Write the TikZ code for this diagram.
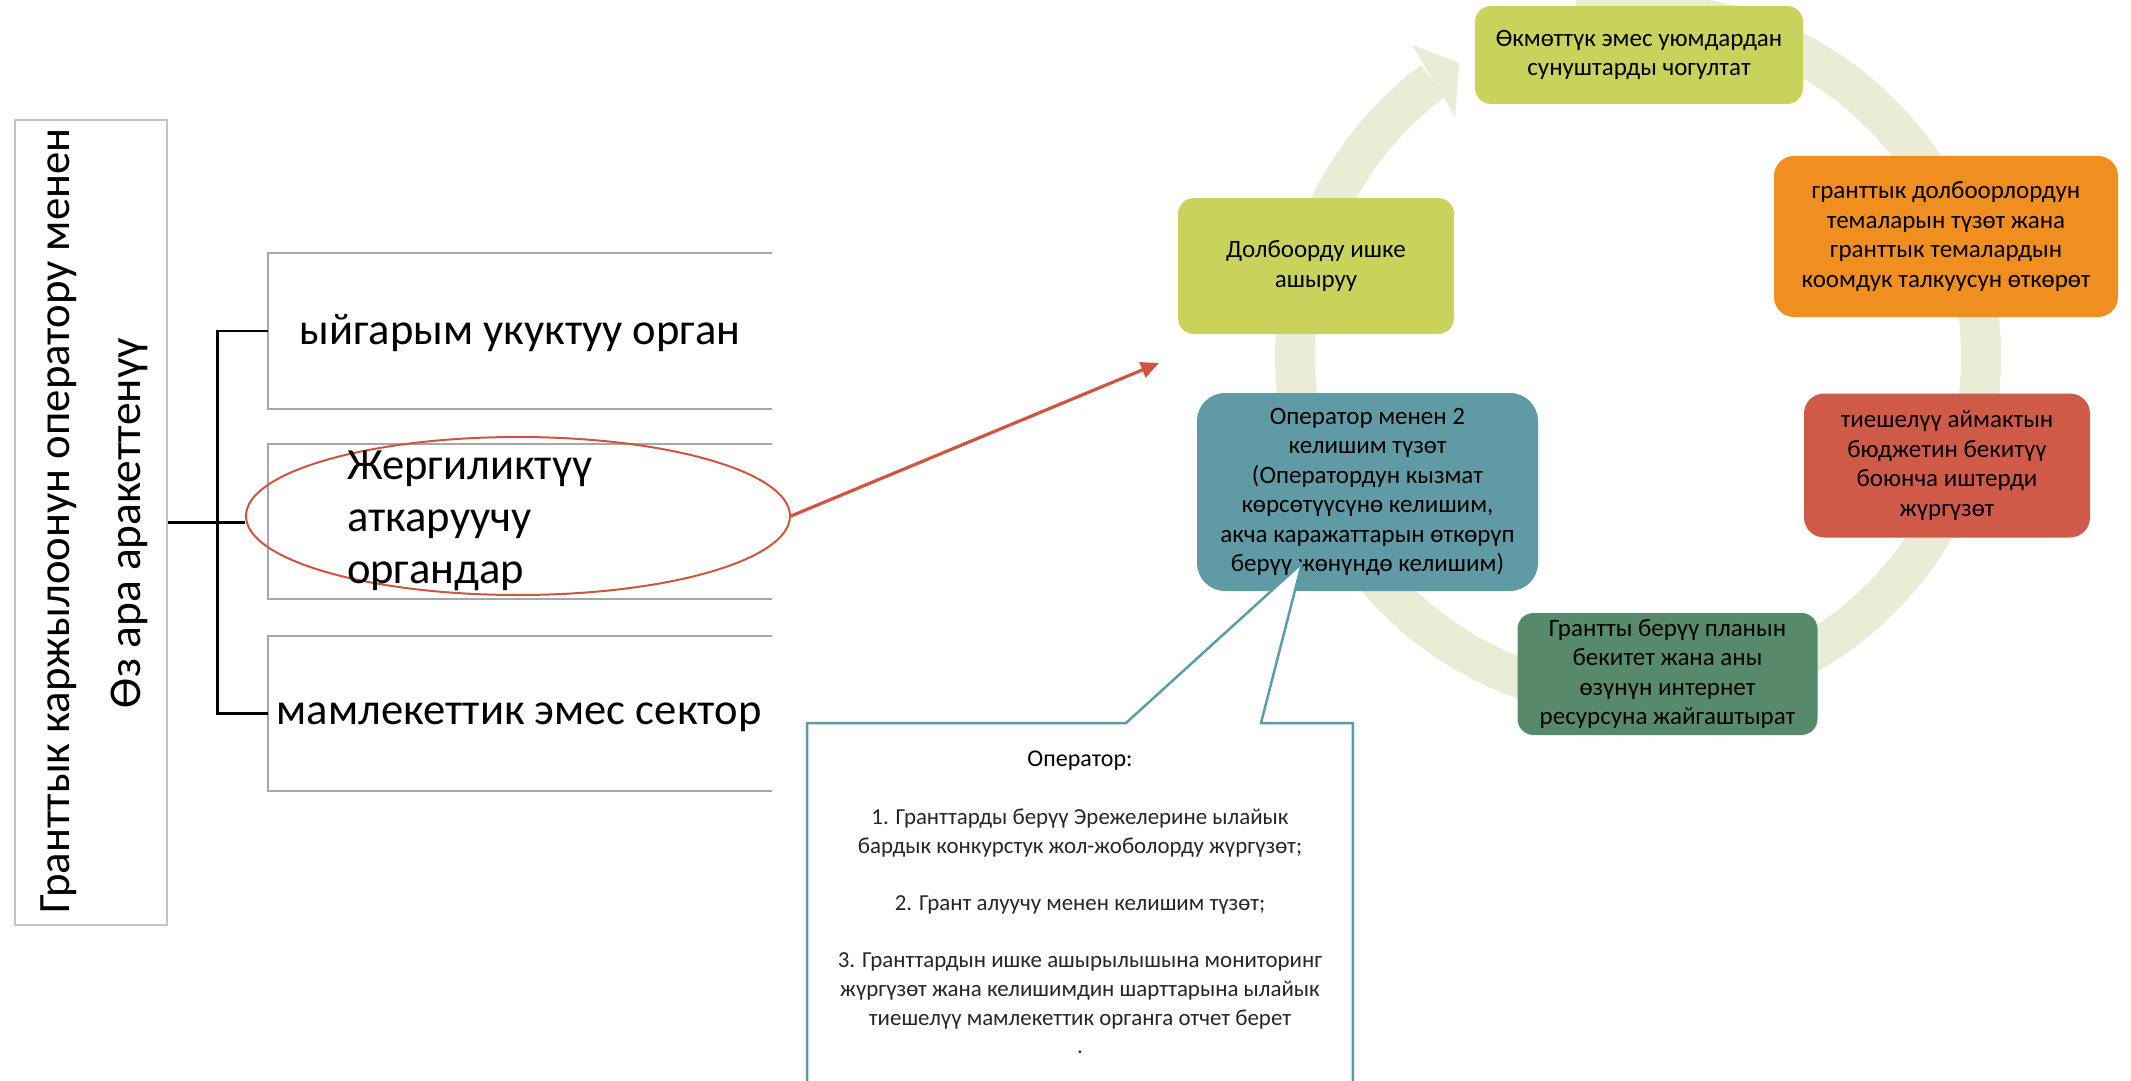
\documentclass[tikz,border=0pt]{standalone}
\usepackage{fontspec}
\setmainfont{Carlito}
\usetikzlibrary{shapes.geometric,arrows.meta,calc}
\definecolor{ygreen}{HTML}{C9D35C}
\definecolor{orng}{HTML}{F08F1F}
\definecolor{rred}{HTML}{D05A48}
\definecolor{dgreen}{HTML}{578A6A}
\definecolor{tealbox}{HTML}{5F9AA5}
\definecolor{ringc}{HTML}{EAEDD5}
\definecolor{callc}{HTML}{5A9CA8}
\definecolor{ellc}{HTML}{D05540}
\definecolor{grayb}{HTML}{A6A6A6}
\definecolor{grayl}{HTML}{C4C4C4}
\begin{document}
\begin{tikzpicture}[x=0.5pt,y=-0.5pt,
  cyc/.style={rounded corners=8pt, align=center, inner sep=0pt, font=\fontsize{12.5}{14.75}\selectfont, text=black},
  leftbox/.style={inner sep=0pt, minimum width=252pt, minimum height=77.5pt},
  boxline/.style={draw=grayb, line width=1pt},
  lefttext/.style={font=\fontsize{22.3}{26}\selectfont, text=black},
  bracket/.style={draw=black, line width=1.2pt}]
\useasboundingbox (0,0) rectangle (2131,1081);
\clip (0,0) rectangle (2131,1081);

% ---------- left part ----------
\node[draw=grayl, line width=1pt, minimum width=76pt, minimum height=402.5pt, inner sep=0pt] (lrect) at (91,522.5) {};
\node[rotate=90, font=\fontsize{22.4}{27}\selectfont] (t1) at (59,521) {Гранттык каржылоонун оператору менен};
\node[rotate=90, font=\fontsize{22.7}{27}\selectfont] (t2) at (129,523) {Өз ара аракеттенүү};

\node[leftbox] (b1) at (520,331) {};
\node[leftbox] (b2) at (520,521.5) {};
\node[leftbox] (b3) at (520,713.5) {};
\foreach \b in {b1,b2,b3}
  \draw[boxline] (\b.north east) -- (\b.north west) -- (\b.south west) -- (\b.south east);

\node[lefttext] (b1t) at (520,333) {ыйгарым укуктуу орган};
\node[lefttext] (b3t) at (519,717) {мамлекеттик эмес сектор};

\node[ellipse, draw=ellc, line width=1pt, minimum width=272pt, minimum height=79pt, inner sep=0pt] (ell) at (518,516) {};
\node[lefttext, align=left, anchor=west] (b2t) at (340,521) {Жергиликтүү\\аткаруучу\\органдар};

\draw[bracket] (lrect.east) -- (lrect.east -| ell.west);
\draw[bracket] (b1.west) -- ++(-50,0) |- (b3.west);

% ---------- cycle ----------
\coordinate (c) at (1638,356);
\draw[ringc, line width=20pt] ($(c)+(100:171.5pt)$) arc[start angle=100, end angle=-233.3, radius=171.5pt];
\fill[ringc] ($(c)+(126.0:192.25pt)$) -- ($(c)+(121.4:171.7pt)$) -- ($(c)+(127.4:150.5pt)$) -- cycle;

\node[cyc, fill=ygreen, minimum width=164pt, minimum height=49pt] (n1) at (1639,55)
  {Өкмөттүк эмес уюмдардан\\сунуштарды чогултат};
\node[cyc, fill=orng, minimum width=172pt, minimum height=80.5pt, rounded corners=10pt] (n2) at (1946,236.5)
  {гранттык долбоорлордун\\темаларын түзөт жана\\гранттык темалардын\\коомдук талкуусун өткөрөт};
\node[cyc, fill=rred, minimum width=143pt, minimum height=72pt, rounded corners=10pt] (n3) at (1947,465.5)
  {тиешелүү аймактын\\бюджетин бекитүү\\боюнча иштерди\\жүргүзөт};
\node[cyc, fill=dgreen, minimum width=150pt, minimum height=61pt] (n4) at (1667.5,674)
  {Грантты берүү планын\\бекитет жана аны\\өзүнүн интернет\\ресурсуна жайгаштырат};
\node[cyc, fill=tealbox, minimum width=170.5pt, minimum height=99pt, rounded corners=14pt] (n5) at (1367.5,492)
  {Оператор менен 2\\келишим түзөт\\(Оператордун кызмат\\көрсөтүүсүнө келишим,\\акча каражаттарын өткөрүп\\берүү жөнүндө келишим)};
\node[cyc, fill=ygreen, minimum width=138pt, minimum height=68pt] (n6) at (1316,266)
  {Долбоорду ишке\\ашыруу};

% ---------- callout ----------
\node[minimum width=272.5pt, minimum height=200pt, inner sep=0pt, anchor=north west] (call) at (807,723) {};
\coordinate (tip) at (1302,563);
\coordinate (pl) at (1126,723);
\coordinate (pr) at (1261,723);
\draw[callc, line width=1.25pt, fill=white, line join=miter]
  (call.south west) -- (call.north west) -- (pl) -- (tip) -- (pr) -- (call.north east) -- (call.south east);
\node[align=center, anchor=north, inner sep=0pt, font=\fontsize{11.45}{14.35}\selectfont, text=black!85] (calltext) at (1080,751)
  {{\color{black}\fontsize{12}{14.35}\selectfont Оператор:}\\[14.35pt]
   1. Гранттарды берүү Эрежелерине ылайык\\
   бардык конкурстук жол-жоболорду жүргүзөт;\\[14.35pt]
   2. Грант алуучу менен келишим түзөт;\\[14.35pt]
   3. Гранттардын ишке ашырылышына мониторинг\\
   жүргүзөт жана келишимдин шарттарына ылайык\\
   тиешелүү мамлекеттик органга отчет берет\\
   .};

% ---------- red arrow ----------
\coordinate (tgt) at (1159,363);
\draw[ellc, line width=1.6pt, -{Triangle[length=9pt,width=8pt]}] (ell.east) -- (tgt);
\end{tikzpicture}
\end{document}
